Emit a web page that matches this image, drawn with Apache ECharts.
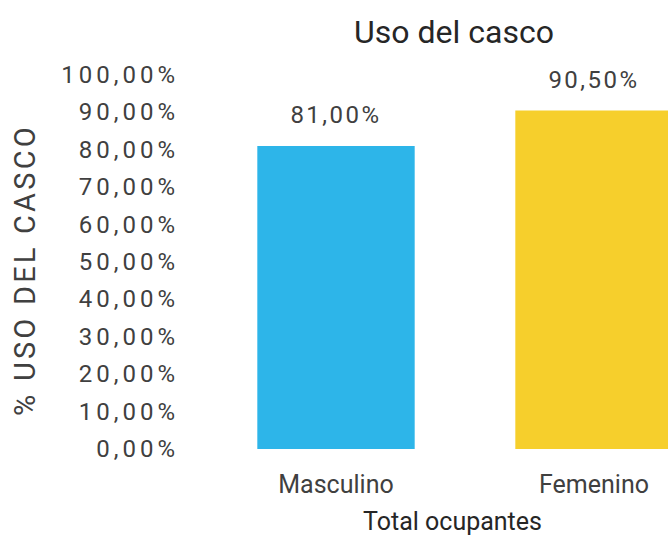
<!DOCTYPE html>
<html>
<head>
<meta charset="utf-8">
<script src="https://cdn.jsdelivr.net/npm/echarts@6/dist/echarts.min.js"></script>
<style>
  html, body { margin: 0; padding: 0; background: #fff; overflow: hidden; }
  #chart { width: 668px; height: 537px; }
  svg text[style*="SpacedA"] { letter-spacing: 4px; }
  svg text[style*="SpacedB"] { letter-spacing: 3.2px; }
  svg text[style*="SpacedC"] { letter-spacing: 2.5px; }
</style>
</head>
<body>
<div id="chart"></div>
<script>
const categories = ['Masculino', 'Femenino'];
const values = [81.0, 90.5];
const yTicks = [0, 10, 20, 30, 40, 50, 60, 70, 80, 90, 100];

const barColors = ['#2DB5E9', '#F6CF2C'];
const fmt = v => v.toFixed(2).replace('.', ',') + '%';

const chart = echarts.init(document.getElementById('chart'), null, { renderer: 'svg' });
chart.setOption({
  backgroundColor: '#ffffff',
  animation: false,
  title: {
    text: 'Uso del casco',
    left: 449, top: 11,
    textAlign: 'center',
    textStyle: { fontFamily: 'Roboto', fontSize: 32, fontWeight: 'normal', color: '#262626' }
  },
  grid: { left: 207, width: 516, top: 75, bottom: 88, containLabel: false, outerBoundsMode: 'none' },
  xAxis: {
    type: 'category',
    data: categories,
    axisLine: { show: false },
    axisTick: { show: false },
    axisLabel: { margin: 23, fontFamily: 'Roboto', fontSize: 25, color: '#404040' },
    name: 'Total ocupantes',
    nameLocation: 'middle',
    nameGap: 60,
    nameTextStyle: { fontFamily: 'Roboto', fontSize: 25, color: '#262626', padding: [0, 25, 0, 0] }
  },
  yAxis: {
    type: 'value',
    min: yTicks[0],
    max: yTicks[yTicks.length - 1],
    interval: yTicks[1] - yTicks[0],
    splitLine: { show: false },
    axisLine: { show: false },
    axisTick: { show: false },
    axisLabel: {
      margin: 28,
      fontFamily: 'Roboto, SpacedA', fontSize: 24, color: '#404040',
      formatter: v => fmt(v)
    },
    name: '% USO DEL CASCO',
    nameLocation: 'middle',
    nameGap: 168,
    nameTextStyle: { fontFamily: 'Roboto, SpacedB', fontSize: 29, color: '#404040', padding: [0, 16, 0, 0] }
  },
  series: [{
    type: 'bar',
    data: values,
    barWidth: '61%',
    itemStyle: { color: p => barColors[p.dataIndex % barColors.length] },
    label: {
      show: true,
      position: 'top',
      distance: 19,
      fontFamily: 'Roboto, SpacedC', fontSize: 24, color: '#404040',
      formatter: p => fmt(p.value)
    }
  }]
});
</script>
</body>
</html>
